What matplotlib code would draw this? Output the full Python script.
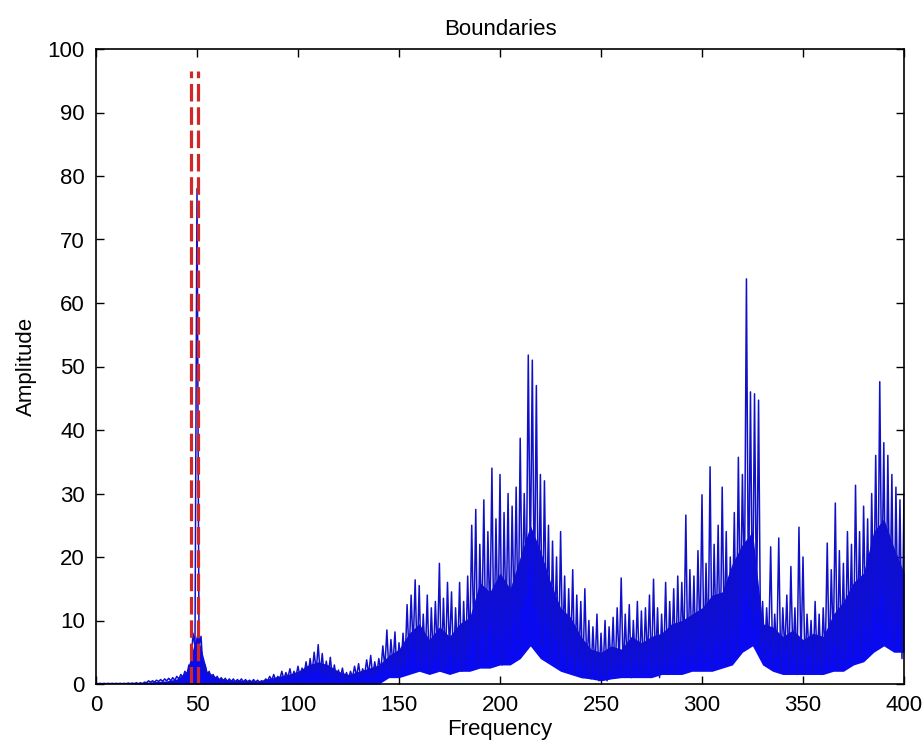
import numpy as np
import matplotlib
matplotlib.use("Agg")
import matplotlib.pyplot as plt

# upper points of the spectrum, read every 2 Hz (0, 2, ..., 400)
upper = [
    0.1, 0.1, 0.1, 0.1, 0.1, 0.1, 0.1, 0.1, 0.15, 0.15,      # 0-18
    0.2, 0.2, 0.3, 0.5, 0.5, 0.6, 0.7, 0.8, 0.9, 1.0,        # 20-38
    1.2, 1.5, 2.0, 3.0, 8.0, 78.0, 7.5, 3.0, 2.0, 1.5,       # 40-58
    1.2, 1.0, 0.9, 0.8, 0.8, 0.7, 0.8, 0.7, 0.6, 0.7,        # 60-78
    0.6, 0.5, 0.8, 1.2, 1.5, 1.2, 2.0, 1.8, 2.4, 2.0,        # 80-98
    2.8, 2.5, 3.5, 4.0, 5.0, 6.2, 4.8, 3.6, 4.2, 3.0,        # 100-118
    2.2, 2.5, 1.8, 2.0, 2.8, 3.2, 2.4, 3.8, 4.5, 3.5,        # 120-138
    4.0, 6.0, 8.5, 7.0, 8.2, 6.5, 8.0, 12.5, 14.0, 16.4,     # 140-158
    15.5, 11.0, 14.0, 12.0, 13.0, 19.0, 13.5, 16.0, 14.5, 12.0,  # 160-178
    16.0, 13.0, 17.0, 25.0, 27.5, 22.0, 29.0, 24.0, 34.0, 26.0,  # 180-198
    33.0, 27.0, 30.0, 28.0, 31.0, 38.7, 30.0, 51.8, 51.0, 47.0,  # 200-218
    33.0, 32.0, 25.0, 22.5, 20.0, 24.0, 17.0, 15.0, 18.0, 14.0,  # 220-238
    13.0, 15.0, 10.0, 9.0, 11.0, 8.0, 10.0, 9.0, 10.5, 12.0,     # 240-258
    16.7, 11.0, 12.5, 10.0, 13.0, 11.5, 12.0, 14.0, 16.5, 12.0,  # 260-278
    11.0, 16.0, 13.0, 15.0, 17.0, 16.0, 26.6, 18.0, 17.0, 21.0,  # 280-298
    29.8, 19.0, 34.2, 22.0, 25.0, 31.0, 24.0, 20.0, 27.0, 35.7,  # 300-318
    33.0, 63.8, 46.0, 45.7, 44.7, 13.0, 12.0, 21.6, 11.0, 23.0,  # 320-338
    12.0, 14.0, 18.5, 12.0, 24.7, 20.0, 11.0, 10.0, 13.0, 11.0,  # 340-358
    12.0, 22.2, 18.0, 28.5, 21.0, 19.0, 24.0, 22.0, 31.3, 24.0,  # 360-378
    28.0, 26.0, 30.0, 36.0, 47.6, 38.0, 36.0, 33.0, 31.0, 29.0,  # 380-398
    30.0,                                                        # 400
]

# lower points in between, read every 2 Hz (1, 3, ..., 399)
lower = [
    0.05, 0.05, 0.05, 0.05, 0.05, 0.05, 0.05, 0.05, 0.05, 0.05,  # 1-19
    0.05, 0.05, 0.2, 0.3, 0.3, 0.4, 0.4, 0.5, 0.5, 0.6,          # 21-39
    0.8, 1.0, 1.5, 2.5, 6.0, 6.0, 2.0, 1.2, 0.9, 0.7,            # 41-59
    0.5, 0.5, 0.4, 0.4, 0.3, 0.4, 0.3, 0.3, 0.3, 0.3,            # 61-79
    0.3, 0.3, 0.5, 0.6, 0.5, 0.8, 0.7, 1.0, 0.8, 1.2,            # 81-99
    1.0, 1.5, 1.2, 1.8, 2.0, 1.5, 1.2, 1.4, 1.0, 0.8,            # 101-119
    1.0, 0.7, 0.8, 1.0, 1.2, 0.9, 1.4, 1.5, 1.2, 1.5,            # 121-139
    2.0, 2.5, 1.8, 2.8, 1.5, 2.5, 3.0, 4.0, 5.5, 3.5,            # 141-159
    2.5, 4.0, 2.0, 3.5, 4.5, 2.0, 3.0, 5.0, 2.5, 4.0,            # 161-179
    2.0, 3.5, 5.0, 7.0, 3.0, 8.0, 4.0, 9.0, 5.0, 7.5,            # 181-199
    3.0, 8.5, 6.0, 10.0, 7.0, 12.0, 14.0, 18.0, 12.0, 10.0,      # 201-219
    6.0, 9.0, 4.0, 7.0, 3.0, 5.5, 2.5, 4.0, 1.5, 3.0,            # 221-239
    1.0, 2.5, 0.8, 2.0, 0.5, 1.5, 0.5, 2.0, 1.0, 3.0,            # 241-259
    1.5, 2.5, 1.0, 3.0, 1.5, 2.0, 3.5, 1.2, 2.5, 1.0,            # 261-279
    3.0, 1.5, 4.0, 2.0, 3.5, 5.0, 2.5, 4.5, 3.0, 6.0,            # 281-299
    3.5, 5.0, 2.5, 6.5, 4.0, 7.0, 3.5, 8.0, 5.0, 10.0,           # 301-319
    14.0, 12.0, 9.0, 11.0, 6.0, 4.0, 5.5, 3.0, 4.5, 2.0,         # 321-339
    5.0, 2.5, 4.0, 1.5, 3.5, 2.0, 4.5, 2.0, 3.0, 1.5,            # 341-359
    4.0, 3.0, 6.0, 2.5, 5.0, 3.5, 7.0, 4.0, 8.0, 5.0,            # 361-379
    9.0, 6.0, 12.0, 10.0, 14.0, 8.0, 11.0, 6.0, 9.0, 4.0,        # 381-399
]

# solid core of the dense trace, read every 5 Hz (0, 5, ..., 400)
band_top = [
    0.0, 0.0, 0.0, 0.0, 0.1, 0.3, 0.4, 0.5, 0.8, 2.0,          # 0-45
    8.0, 2.0, 1.0, 0.7, 0.6, 0.6, 0.5, 0.8, 1.2, 1.5,          # 50-95
    2.0, 3.0, 3.5, 3.0, 2.0, 1.5, 2.0, 2.5, 3.0, 4.5,          # 100-145
    5.5, 8.0, 9.5, 7.0, 9.0, 7.5, 9.5, 10.5, 16.0, 14.5,       # 150-195
    17.5, 15.0, 20.0, 25.0, 21.0, 16.0, 12.0, 10.5, 7.5, 5.5,  # 200-245
    5.0, 6.0, 5.5, 7.5, 6.5, 7.5, 8.0, 9.5, 10.0, 11.0,        # 250-295
    12.0, 14.0, 14.5, 19.0, 22.0, 24.0, 9.5, 9.0, 7.5, 8.5,    # 300-345
    7.0, 8.0, 7.5, 11.0, 13.0, 16.0, 17.5, 24.0, 26.0, 21.5,   # 350-395
    17.5,                                                      # 400
]
band_bottom = [
    0.0, 0.0, 0.0, 0.0, 0.0, 0.0, 0.0, 0.0, 0.0, 0.0,          # 0-45
    0.0, 0.0, 0.0, 0.0, 0.0, 0.0, 0.0, 0.0, 0.0, 0.0,          # 50-95
    0.0, 0.0, 0.0, 0.0, 0.0, 0.0, 0.0, 0.0, 0.0, 1.0,          # 100-145
    1.0, 1.5, 2.0, 1.5, 2.0, 1.5, 2.0, 2.0, 2.5, 2.5,          # 150-195
    3.0, 3.0, 4.0, 6.0, 4.0, 3.0, 2.0, 1.5, 1.0, 0.8,          # 200-245
    0.5, 0.8, 1.0, 1.0, 1.0, 1.0, 1.5, 1.5, 1.5, 2.0,          # 250-295
    2.0, 2.0, 2.5, 3.0, 5.0, 6.0, 3.0, 2.0, 1.5, 1.5,          # 300-345
    1.5, 1.5, 1.5, 2.0, 2.0, 3.0, 3.5, 5.0, 6.0, 5.0,          # 350-395
    5.0,                                                       # 400
]

boundaries = [47.0, 50.5]
boundary_top = 96.5

x_ticks = [0, 50, 100, 150, 200, 250, 300, 350, 400]
y_ticks = [0, 10, 20, 30, 40, 50, 60, 70, 80, 90, 100]

freq = np.concatenate([np.arange(len(upper)) * 2.0, np.arange(len(lower)) * 2.0 + 1.0])
amp = np.concatenate([upper, lower])
order = np.argsort(freq)
freq, amp = freq[order], amp[order]
band_freq = np.arange(len(band_top)) * 5.0

plt.rcParams['font.family'] = ['Liberation Sans', 'DejaVu Sans']

fig = plt.figure(figsize=(9.24, 7.54), dpi=100)
ax = fig.add_axes([96 / 924, 70 / 754, 808 / 924, 635 / 754])

# dense core of the trace, then the trace itself on top
ax.fill_between(band_freq, band_bottom, band_top, color='#0a0af0',
                linewidth=0, zorder=2)
ax.plot(freq, amp, color='#1010c8', linewidth=1.1, zorder=3)
for b in boundaries:
    ax.plot([b, b], [0, boundary_top], color='#d02828', linewidth=2.3,
            linestyle=(0, (5.5, 1.8)), zorder=4)

ax.set_xlim(0, 400)
ax.set_ylim(0, 100)
ax.set_xticks(x_ticks)
ax.set_yticks(y_ticks)
ax.tick_params(direction='in', length=6, width=1, top=True, right=True,
               labelsize=16, pad=8)
for s in ax.spines.values():
    s.set_linewidth(1.2)
    s.set_zorder(5)

ax.set_title("Boundaries", fontsize=16, pad=10)
ax.set_xlabel("Frequency", fontsize=16, labelpad=2)
ax.set_ylabel("Amplitude", fontsize=16, labelpad=8)

fig.savefig("out.png", dpi=100)
